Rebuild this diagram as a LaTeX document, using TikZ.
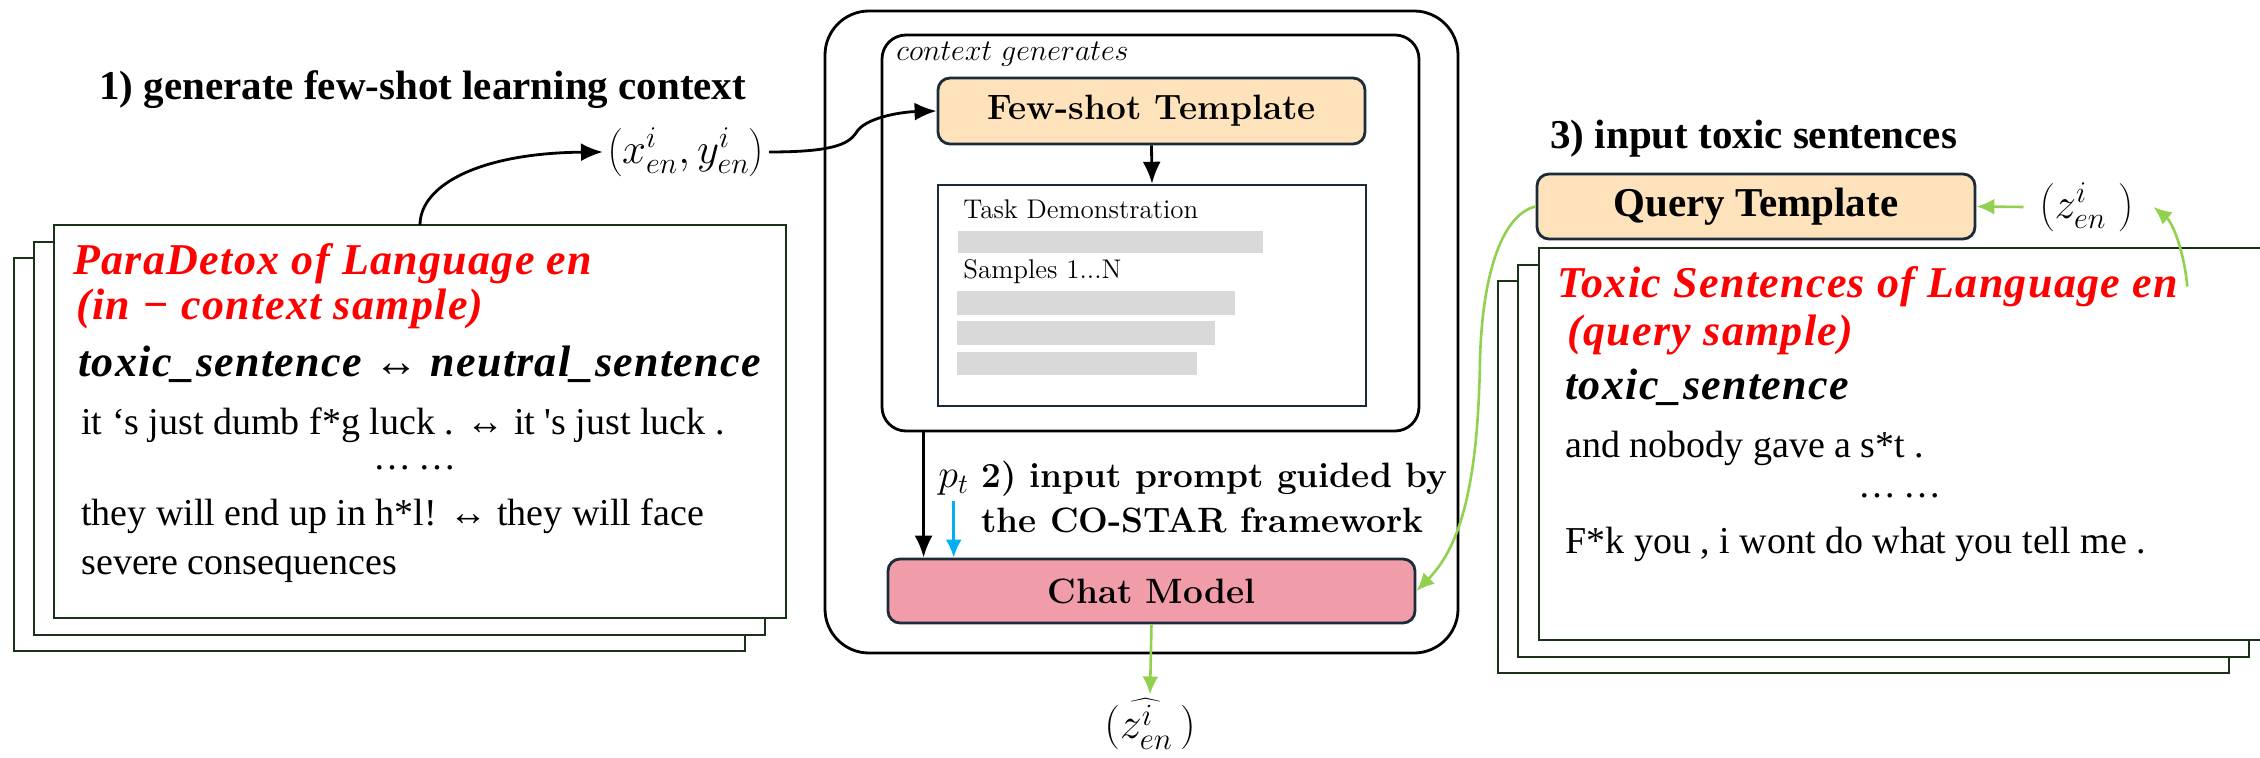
\RequirePackage{fix-cm}
\documentclass[tikz,border=0pt]{standalone}
\usepackage{fontspec}
\newfontfamily\lib{Liberation Serif}
\usetikzlibrary{arrows.meta,fit,calc}
\definecolor{stackgreen}{HTML}{1A3318}
\definecolor{tmplnavy}{HTML}{1C2B3A}
\definecolor{peach}{HTML}{FDE2BC}
\definecolor{pinkfill}{HTML}{F09CA9}
\definecolor{arrgreen}{HTML}{92D050}
\definecolor{arrblue}{HTML}{00B0F0}
\definecolor{barfill}{HTML}{D9D9D9}
\definecolor{redtxt}{HTML}{FF0000}
\tikzset{
  stackbox/.style={draw=stackgreen, line width=1.4pt, fill=white, inner sep=0pt, outer sep=0pt},
  tmplbox/.style={draw=tmplnavy, line width=1.4pt, rounded corners=6pt, fill=peach, inner sep=0pt},
  arr/.style={-{Latex[length=11pt,width=9pt]}, line width=1.4pt},
  garr/.style={-{Latex[length=9pt,width=8pt]}, line width=1.3pt, draw=arrgreen},
  barr/.style={-{Latex[length=9pt,width=8pt]}, line width=1.3pt, draw=arrblue},
  txt/.style={inner sep=0pt, anchor=mid west},
  libbf/.style={txt, font=\lib\bfseries\fontsize{20.5}{24}\selectfont},
  libbody/.style={txt, font=\lib\fontsize{19}{23}\selectfont},
  libbi/.style={txt, font=\lib\bfseries\itshape\fontsize{22}{26}\selectfont\addfontfeatures{LetterSpace=3}},
  libred/.style={libbi, text=redtxt},
  cmbf/.style={font=\bfseries\fontsize{17.6}{21}\selectfont},
  cmrm/.style={txt, font=\fontsize{13.5}{16}\selectfont},
  mathlab/.style={inner sep=2pt, font=\fontsize{21.5}{26}\selectfont},
}
\begin{document}
\begin{tikzpicture}[x=0.5pt,y=-0.5pt]
\useasboundingbox (0,0) rectangle (2260,758);

% left stack
\node[stackbox, fit={(14,258) (745,651)}] (lback) {};
\node[stackbox, fit={(34,242) (765,635)}] (lmid) {};
\node[stackbox, fit={(54,225) (786,618)}] (lfront) {};

\node[libbf] (t1) at (99,95) {1) generate few-shot learning context};
\node[libred] (l1) at (73,270.5) {ParaDetox of Language en};
\node[libred] (l2) at (76,315) {(in − context sample)};
\node[libbi] (l3) at (78,372) {toxic\_sentence {\mdseries\upshape ↔} neutral\_sentence};
\node[libbody] (l4) at (81,430) {it ‘s just dumb f*g luck . ↔ it \textquotesingle s just luck .};
\node[libbody, anchor=center] (l5) at (415,468) {…\,…};
\node[libbody] (l6) at (81,521) {they will end up in h*l! ↔ they will face};
\node[libbody] (l7) at (81,570) {severe consequences};

\node[mathlab] (xy) at (686,152) {$\left(x^i_{en}, y^i_{en}\right)$};
\draw[arr] (lfront.north) .. controls (420,185) and (480,153) .. (xy.west);

% center
\node[draw, line width=1.4pt, rounded corners=22pt, inner sep=0pt, fit={(825,11) (1458,653)}] (outer) {};
\node[draw, line width=1.4pt, rounded corners=12pt, inner sep=0pt, fit={(882,35) (1419,431)}] (inner) {};
\node[txt, font=\fontsize{15}{18}\selectfont] (cg) at (896,56) {$context\ generates$};
\node[tmplbox, fit={(938,78) (1365,144)}] (few) {};
\node[cmbf] (fewtxt) at (few.center) {Few-shot Template};
\node[draw=tmplnavy, line width=1.2pt, inner sep=0pt, fit={(938,185) (1366,406)}] (task) {};
\node[cmrm] (tdem) at (963,214) {Task Demonstration};
\fill[barfill] (958,231) rectangle (1263,253);
\node[cmrm] (samp) at (963,274) {Samples 1...N};
\fill[barfill] (957,291) rectangle (1235,315);
\fill[barfill] (957,321) rectangle (1215,345);
\fill[barfill] (957,352) rectangle (1197,375);
\draw[arr] (few.south) -- (task.north);
\draw[arr] (xy.east) .. controls (830,152) and (848,145) .. (856,133) .. controls (864,118) and (900,112) .. (few.west);

\node[draw=tmplnavy, fill=pinkfill, line width=1.4pt, rounded corners=6pt, inner sep=0pt, fit={(888,559) (1415,623)}] (chat) {};
\node[cmbf] (chattxt) at (chat.center) {Chat Model};
\path ([xshift=21.5pt]inner.south west) coordinate (blk);
\draw[arr] (blk) -- (blk |- chat.north);
\node[txt, font=\fontsize{20}{24}\selectfont] (pt) at (938,483) {$p_t$};
\draw[barr] ([yshift=-3pt]pt.south) -- (pt.south |- chat.north);
\node[txt, cmbf] (s2a) at (981,483) {2) input prompt guided by};
\node[txt, cmbf] (s2b) at (981,528) {the CO-STAR framework};

\node[mathlab, font=\fontsize{22}{26}\selectfont] (zhat) at (1150,724) {$\Bigl(\widehat{z^i_{en}}\,\Bigr)$};
\draw[garr] (chat.south) -- (zhat.north);

% right stack
\node[stackbox, fit={(1498,281) (2229,673)}] (rback) {};
\node[stackbox, fit={(1518,265) (2249,657)}] (rmid) {};
\node[stackbox, fit={(1539,248) (2280,640)}] (rfront) {};
\node[libbf] (t3) at (1550,144) {3) input toxic sentences};
\node[tmplbox, fit={(1537,174) (1975,239)}] (query) {};
\node[font=\lib\bfseries\fontsize{20.5}{24}\selectfont] (querytxt) at (query.center) {Query Template};
\node[mathlab] (zlab) at (2087,207) {$\left(z^i_{en}\ \right)$};
\draw[garr] ([xshift=-6pt]zlab.west) -- (query.east);
\node[libred] (r1) at (1557,293) {Toxic Sentences of Language en};
\node[libred] (r2) at (1567,341) {(query sample)};
\node[libbi] (r3) at (1565,395) {toxic\_sentence};
\node[libbody] (r4) at (1565,453) {and nobody gave a s*t .};
\node[libbody, anchor=center] (r5) at (1900,496) {…\,…};
\node[libbody] (r6) at (1565,549) {F*k you , i wont do what you tell me .};
\draw[garr] ([xshift=4.5pt]r1.east) .. controls (2184,250) and (2172,222) .. ([xshift=7.5pt]zlab.east);
\draw[garr] (query.west) .. controls (1500,215) and (1482,280) .. (1480,360) .. controls (1478,480) and (1462,545) .. (chat.east);
\end{tikzpicture}
\end{document}
